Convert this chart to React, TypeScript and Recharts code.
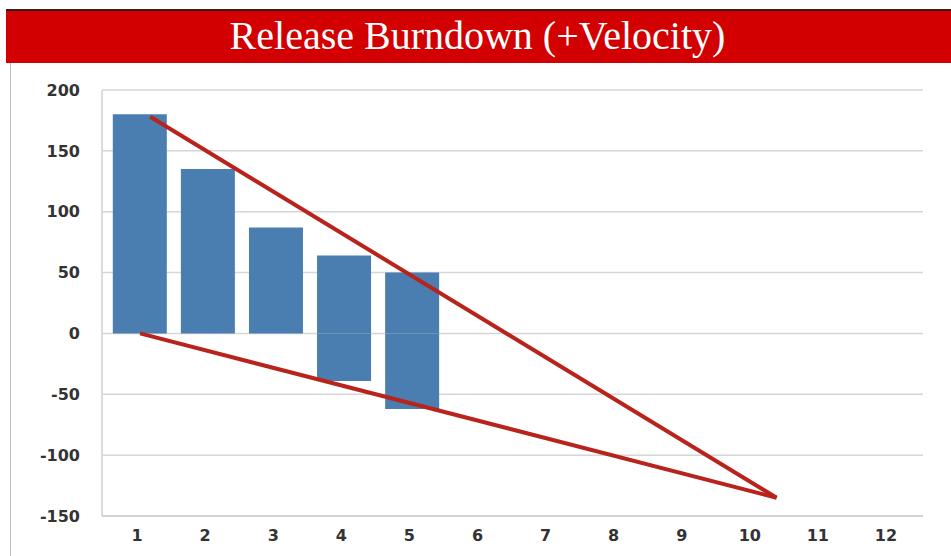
import React from "react";
import {Bar, CartesianGrid, ComposedChart, Line, XAxis, YAxis} from "recharts";

// sprints shown on the x axis
const sprints = ["1", "2", "3", "4", "5", "6", "7", "8", "9", "10", "11", "12"];
// work remaining at the start of each sprint (above zero)
const remaining = [180, 135, 87, 64, 50];
// scope added during the release (below zero)
const added = [0, 0, 0, -39, -62];
const yTicks = [-150, -100, -50, 0, 50, 100, 150, 200];

// trend lines, x in sprint units
const velocityTrend = [
    {x: 1.15, y: 178},
    {x: 10.35, y: -135},
];
const scopeTrend = [
    {x: 1, y: 0},
    {x: 10.35, y: -135},
];

const data = sprints.map((s, i) => ({
    sprint: s,
    remaining: i < remaining.length ? remaining[i] : null,
    added: i < added.length ? added[i] : null,
}));

const tickStyle = {fill: "#333333", fontSize: 16, fontFamily: "'DejaVu Sans', sans-serif", fontWeight: 700};
const axisPad = {left: 4, right: 0};

export default function App() {
    return (
        <div style={{position: "absolute", left: 0, top: 0, width: 951, height: 556, background: "#fff", overflow: "hidden"}}>
            <div style={{position: "absolute", left: 10, top: 63, width: 1, height: 493, background: "#bdbdbd"}} />
            <div
                style={{
                    position: "absolute",
                    left: 6,
                    top: 9,
                    width: 945,
                    height: 54,
                    background: "#d20000",
                    borderTop: "2px solid #3a1a1a",
                    boxSizing: "border-box",
                    color: "#fff",
                    fontFamily: "'Liberation Serif', 'Times New Roman', serif",
                    fontSize: 40,
                    lineHeight: "50px",
                    textAlign: "center",
                    paddingRight: 2,
                }}
            >
                Release Burndown (+Velocity)
            </div>
            <div style={{position: "absolute", left: 0, top: 0}}>
                <ComposedChart
                    width={951}
                    height={556}
                    data={data}
                    stackOffset="sign"
                    barCategoryGap="10%"
                    margin={{top: 90, right: 28, bottom: 10, left: 0}}
                >
                    <CartesianGrid vertical={false} stroke="#d6d6d6" strokeWidth={1.5} />
                    <XAxis
                        dataKey="sprint"
                        height={30}
                        padding={axisPad}
                        axisLine={{stroke: "#d0d0d0", strokeWidth: 1.5}}
                        tickLine={false}
                        tickSize={0}
                        tickMargin={14}
                        tick={{...tickStyle, dx: -3}}
                    />
                    <XAxis xAxisId="trend" dataKey="x" type="number" domain={[0.5, 12.5]} padding={axisPad} hide />
                    <YAxis
                        width={102}
                        domain={[-150, 200]}
                        ticks={yTicks}
                        interval={0}
                        axisLine={{stroke: "#d0d0d0", strokeWidth: 1.5}}
                        tickLine={false}
                        tickSize={0}
                        tickMargin={22}
                        tick={tickStyle}
                    />
                    <Bar dataKey="remaining" stackId="a" fill="#4a7eb0" isAnimationActive={false} />
                    <Bar dataKey="added" stackId="a" fill="#4a7eb0" isAnimationActive={false} />
                    <Line
                        xAxisId="trend"
                        data={velocityTrend}
                        dataKey="y"
                        stroke="#b8231b"
                        strokeWidth={4}
                        dot={false}
                        activeDot={false}
                        isAnimationActive={false}
                    />
                    <Line
                        xAxisId="trend"
                        data={scopeTrend}
                        dataKey="y"
                        stroke="#b8231b"
                        strokeWidth={4}
                        dot={false}
                        activeDot={false}
                        isAnimationActive={false}
                    />
                </ComposedChart>
            </div>
        </div>
    );
}
